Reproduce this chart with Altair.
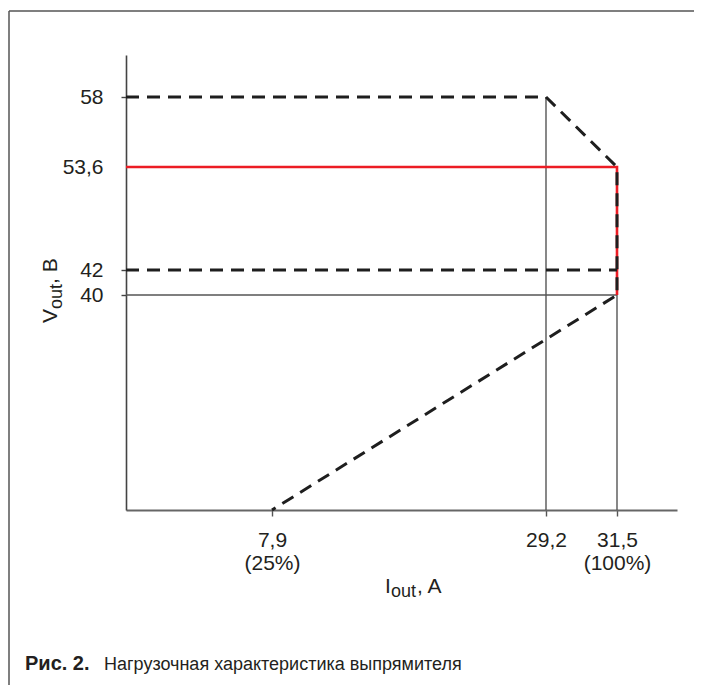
import altair as alt
import pandas as pd

# ---------------- data ----------------
x_ticks = [7.9, 29.2, 31.5]
x_pct = ["(25%)", "", "(100%)"]
y_ticks = [40, 42, 53.6, 58]

# schematic (non-uniform) axes: break values and the ends of the axes
x_domain = [0, 7.9, 29.2, 31.5, 34]
y_domain = [0, 40, 42, 53.6, 58, 62]

# dashed limit contour
limit_x = [0, 29.2, 31.5, 31.5, 7.9]
limit_y = [58, 58, 53.6, 40, 0]
# dashed 42 V level
low_x = [0, 31.5]
low_y = [42, 42]
# red nominal characteristic
nominal_x = [0, 31.5, 31.5]
nominal_y = [53.6, 53.6, 40]
# thin guide lines
guide_x = [0, 29.2, 31.5]
guide_x2 = [31.5, 29.2, 31.5]
guide_y = [40, 0, 0]
guide_y2 = [40, 58, 40]

# ---------------- layout ----------------
PAD_L, PAD_T, W, H = 118, 47, 551, 455
SVG_W, SVG_H = 686, 677
OX, OY = PAD_L + 8, PAD_T + 8  # page coordinates of the plot origin

x_range = [0, 146, 420, 491, W]
y_range = [H, 240, 215, 112, 42, 0]

FONT = "Liberation Sans"
TXT = "#231f20"

xs = alt.Scale(domain=x_domain, range=x_range, nice=False, zero=False)
ys = alt.Scale(domain=y_domain, range=y_range, nice=False, zero=False)

x_expr = ""
for v, p in zip(x_ticks, x_pct):
    main = str(v).replace(".", ",")
    arr = f"['{main}', '{p}']" if p else f"['{main}']"
    x_expr += f"datum.value == {v} ? {arr} : "
x_expr += "datum.label"

x_axis = alt.Axis(
    values=x_ticks, labelExpr=x_expr, title=None, grid=False,
    domainColor="#666666", domainWidth=2.2, tickColor="#555555", tickWidth=1.4,
    tickSize=6, labelFont=FONT, labelFontSize=21, labelColor=TXT,
    labelPadding=13, labelLineHeight=23, labelAngle=0,
)
y_axis = alt.Axis(
    values=y_ticks, labelExpr="replace(toString(datum.value), '.', ',')",
    title=None, grid=False, domainColor="#444444", domainWidth=1.6,
    tickColor="#444444", tickWidth=1.4, tickSize=5,
    tickOpacity={"condition": {"test": "datum.value == 53.6", "value": 0}, "value": 1},
    labelFont=FONT, labelFontSize=21, labelColor=TXT, labelPadding=18,
)

guides = pd.DataFrame({"x": guide_x, "x2": guide_x2, "y": guide_y, "y2": guide_y2})
guide_layer = alt.Chart(guides).mark_rule(color="#555555", strokeWidth=1.4).encode(
    x=alt.X("x:Q", scale=xs, axis=x_axis),
    x2="x2",
    y=alt.Y("y:Q", scale=ys, axis=y_axis),
    y2="y2",
)

def path(xv, yv, **mark):
    df = pd.DataFrame({"x": xv, "y": yv, "i": list(range(len(xv)))})
    return alt.Chart(df).mark_line(**mark).encode(
        x=alt.X("x:Q", scale=xs),
        y=alt.Y("y:Q", scale=ys),
        order="i:Q",
    )

red_layer = path(nominal_x, nominal_y, color="#ec1c24", strokeWidth=2.6)
dash = dict(color="#1e1e1e", strokeWidth=3, strokeDash=[13, 8], strokeCap="butt")
limit_layer = path(limit_x, limit_y, **dash)
low_layer = path(low_x, low_y, **dash)

def label(text, px, py, size=21, angle=0, weight="normal", font=FONT):
    return alt.Chart(pd.DataFrame({"t": [text]})).mark_text(
        text=text, font=font, fontSize=size, angle=angle, fontWeight=weight,
        align="left", baseline="alphabetic", color=TXT,
    ).encode(x=alt.value(px - OX), y=alt.value(py - OY))

texts = [
    # x title: I_out, A
    label("I", 385, 593),
    label("out", 391, 597, size=18),
    label(", A", 417, 593),
    # y title: V_out, B (rotated)
    label("V", 57, 323, angle=270),
    label("out", 62, 309, size=18, angle=270),
    label(", B", 57, 284, angle=270),
    # caption
    label("Рис. 2.", 25, 670, size=20, weight="bold"),
    label("Нагрузочная характеристика выпрямителя", 104, 670, size=18),
]

frame_df = pd.DataFrame({"k": [0]})
frame_top = alt.Chart(frame_df).mark_rule(color="#555555", strokeWidth=1.5).encode(
    x=alt.value(9 - OX), x2=alt.value(SVG_W + 8 - OX), y=alt.value(11 - OY)
)
frame_left = alt.Chart(frame_df).mark_rule(color="#555555", strokeWidth=1.5).encode(
    x=alt.value(9 - OX), y=alt.value(11 - OY), y2=alt.value(SVG_H + 8 - OY)
)

chart = alt.layer(
    guide_layer, red_layer, limit_layer, low_layer, frame_top, frame_left, *texts
).properties(
    width=W, height=H,
    padding={"left": PAD_L, "top": PAD_T, "right": SVG_W - PAD_L - W, "bottom": SVG_H - PAD_T - H},
    autosize=alt.AutoSizeParams(type="none"),
).configure_view(stroke=None)

chart.save("out.html", embed_options={"renderer": "svg", "actions": False})
